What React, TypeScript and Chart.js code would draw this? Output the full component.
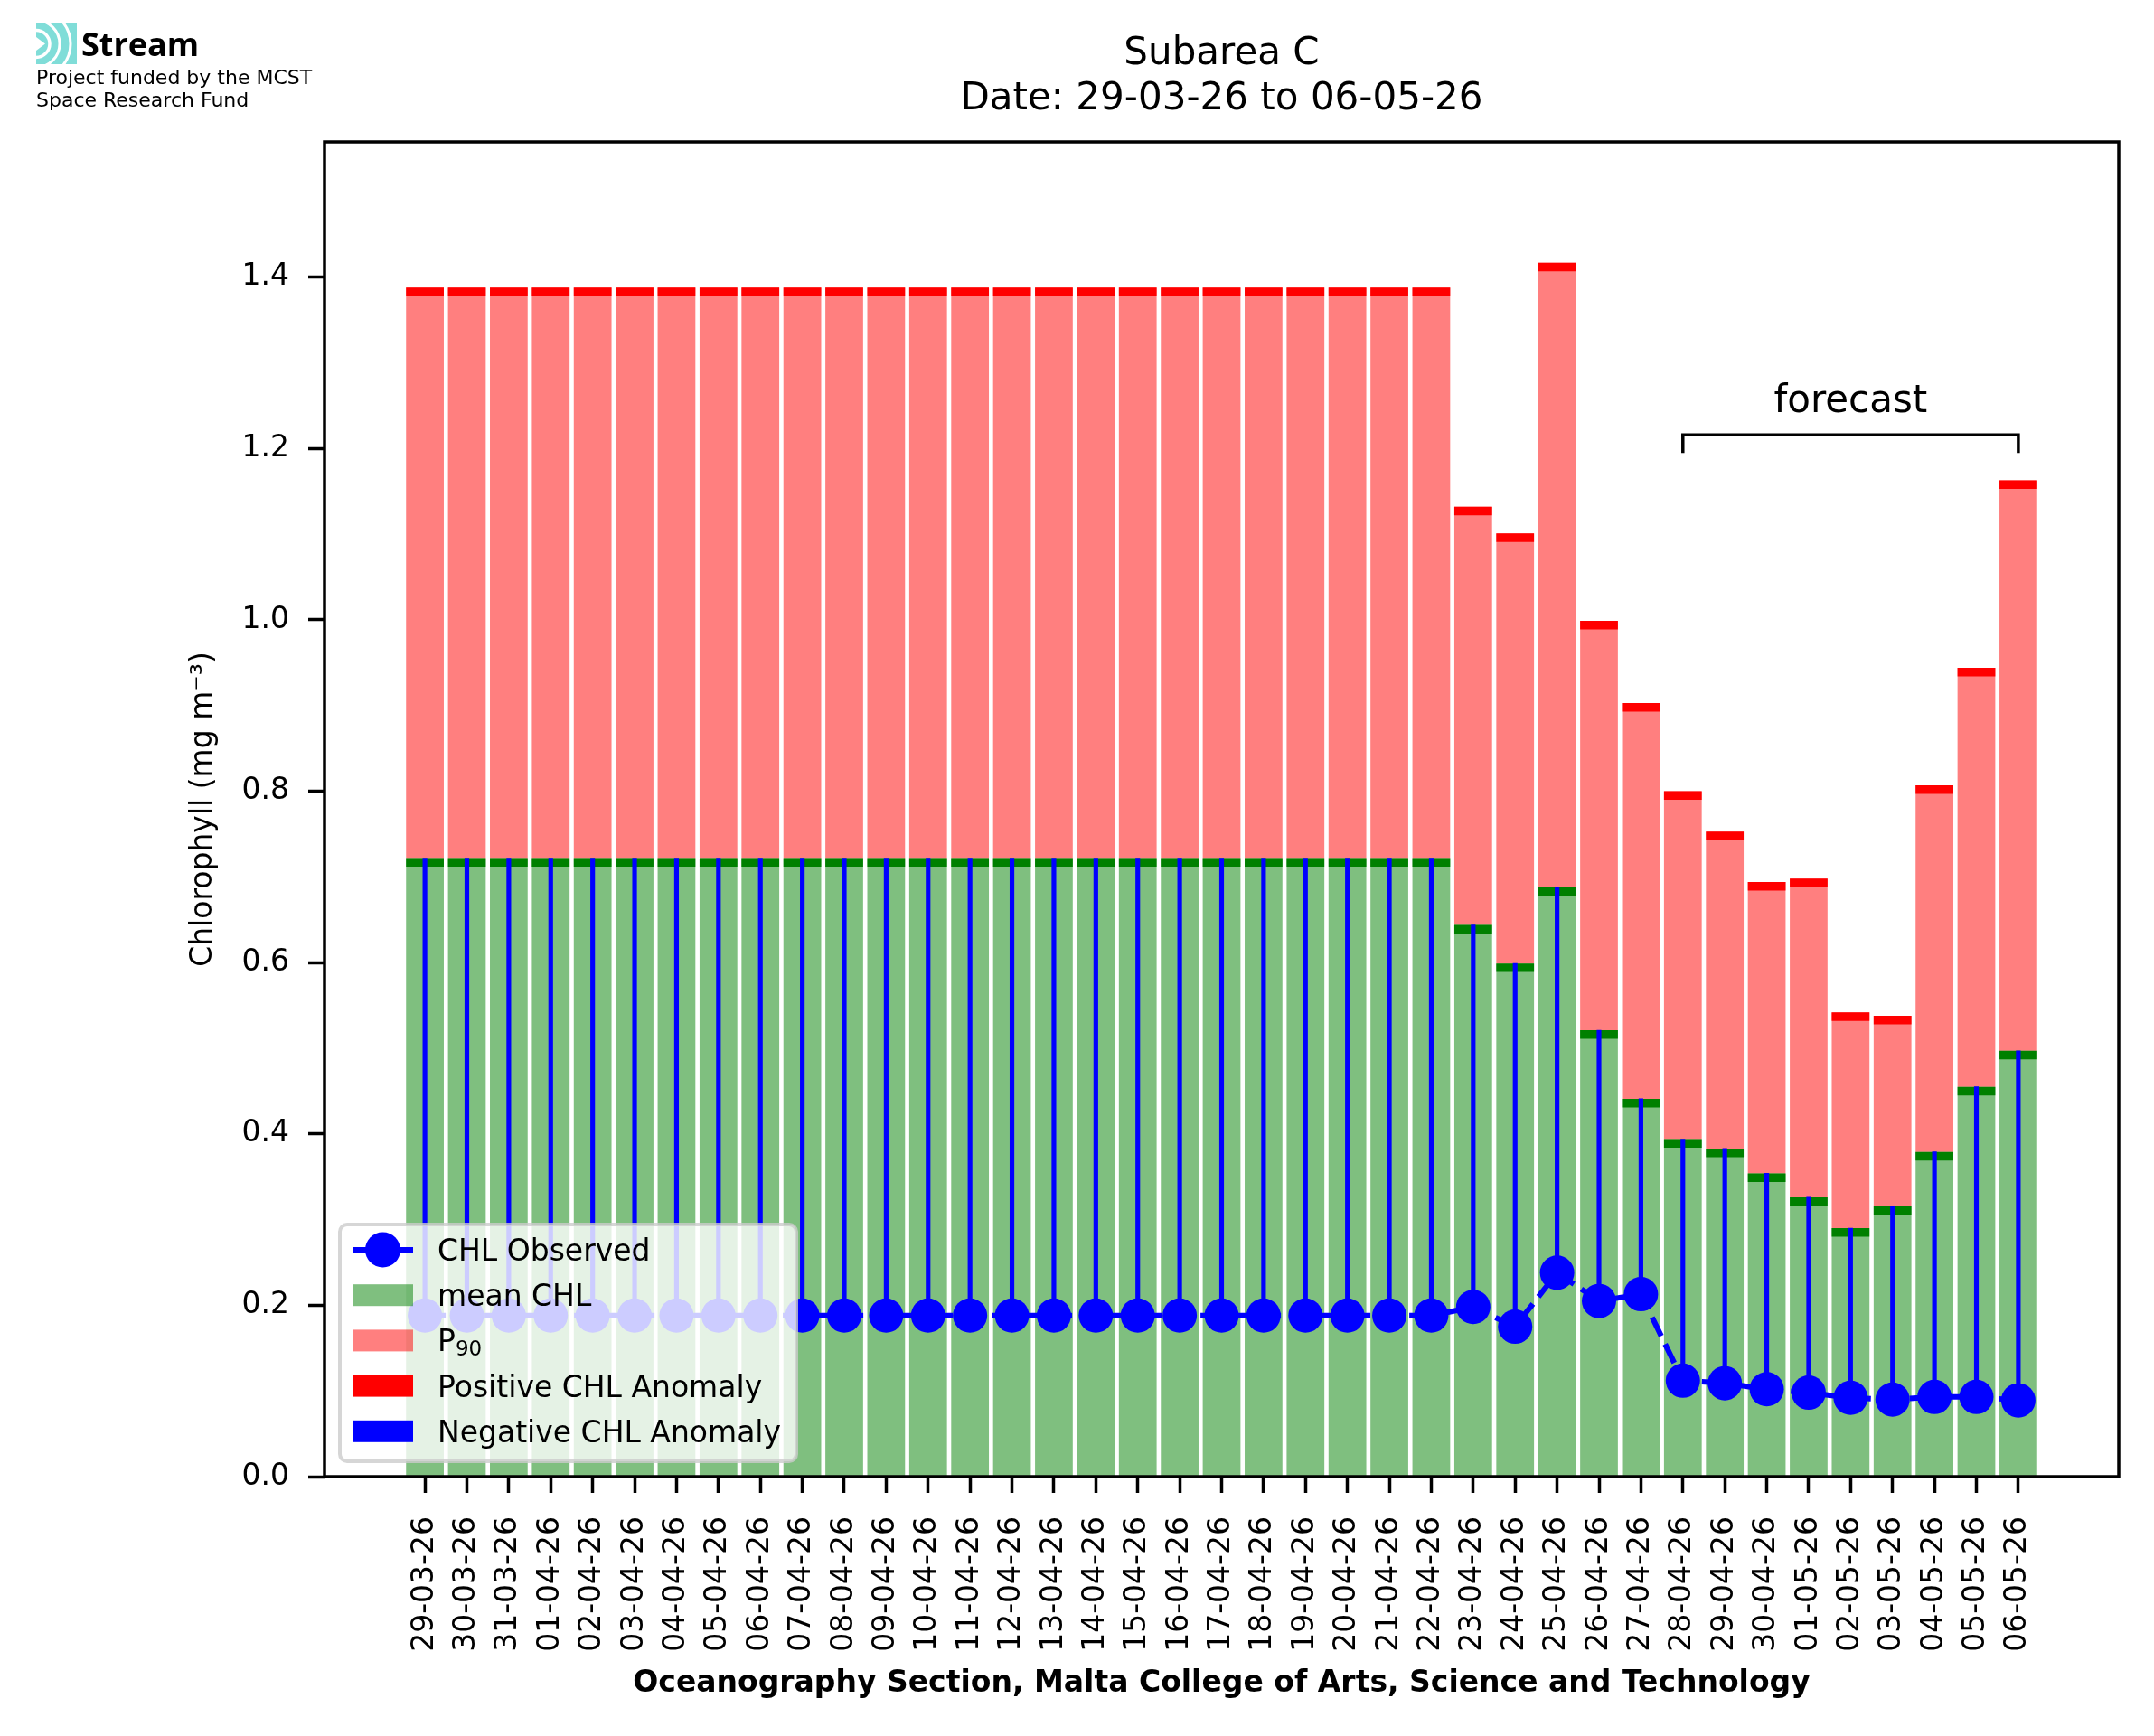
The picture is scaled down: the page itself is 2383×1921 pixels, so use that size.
import React, { useEffect, useRef } from 'react';
import { Chart, registerables } from 'chart.js';

Chart.register(...registerables);

// dates on the x axis
const dates = [
  '29-03-26', '30-03-26', '31-03-26', '01-04-26', '02-04-26', '03-04-26', '04-04-26',
  '05-04-26', '06-04-26', '07-04-26', '08-04-26', '09-04-26', '10-04-26', '11-04-26',
  '12-04-26', '13-04-26', '14-04-26', '15-04-26', '16-04-26', '17-04-26', '18-04-26',
  '19-04-26', '20-04-26', '21-04-26', '22-04-26', '23-04-26', '24-04-26', '25-04-26',
  '26-04-26', '27-04-26', '28-04-26', '29-04-26', '30-04-26', '01-05-26', '02-05-26',
  '03-05-26', '04-05-26', '05-05-26', '06-05-26',
];

// CHL observed (mg m-3)
const observed = [
  0.188, 0.188, 0.188, 0.188, 0.188, 0.188, 0.188, 0.188, 0.188, 0.188,
  0.188, 0.188, 0.188, 0.188, 0.188, 0.188, 0.188, 0.188, 0.188, 0.188,
  0.188, 0.188, 0.188, 0.188, 0.188, 0.198, 0.175, 0.238, 0.205, 0.213,
  0.112, 0.109, 0.102, 0.098, 0.092, 0.090, 0.093, 0.093, 0.089,
];

// climatological mean CHL
const meanChl = [
  0.722, 0.722, 0.722, 0.722, 0.722, 0.722, 0.722, 0.722, 0.722, 0.722,
  0.722, 0.722, 0.722, 0.722, 0.722, 0.722, 0.722, 0.722, 0.722, 0.722,
  0.722, 0.722, 0.722, 0.722, 0.722, 0.644, 0.599, 0.688, 0.521, 0.441,
  0.394, 0.383, 0.354, 0.326, 0.290, 0.316, 0.379, 0.455, 0.497,
];

// 90th percentile
const p90 = [
  1.388, 1.388, 1.388, 1.388, 1.388, 1.388, 1.388, 1.388, 1.388, 1.388,
  1.388, 1.388, 1.388, 1.388, 1.388, 1.388, 1.388, 1.388, 1.388, 1.388,
  1.388, 1.388, 1.388, 1.388, 1.388, 1.132, 1.101, 1.417, 0.999, 0.903,
  0.800, 0.753, 0.694, 0.698, 0.542, 0.538, 0.807, 0.944, 1.163,
];

const yTicks = [0, 0.2, 0.4, 0.6, 0.8, 1.0, 1.2, 1.4];

const forecastFrom = 30; // 28-04-26
const forecastTo = 38; // 06-05-26
const forecastLevel = 1.216;
const forecastTip = 1.195;
const forecastTextLevel = 1.243;

const STRIP = 0.01;
const FONT = '"DejaVu Sans", sans-serif';

const legendItems = [
  { label: 'CHL Observed', kind: 'line', color: '#0000ff' },
  { label: 'mean CHL', kind: 'box', color: 'rgba(0,128,0,0.5)' },
  { label: 'P', sub: '90', kind: 'box', color: 'rgba(255,0,0,0.5)' },
  { label: 'Positive CHL Anomaly', kind: 'box', color: '#ff0000' },
  { label: 'Negative CHL Anomaly', kind: 'box', color: '#0000ff' },
];

const roundRect = (ctx: CanvasRenderingContext2D, x: number, y: number, w: number, h: number, r: number) => {
  ctx.beginPath();
  ctx.moveTo(x + r, y);
  ctx.lineTo(x + w - r, y);
  ctx.arcTo(x + w, y, x + w, y + r, r);
  ctx.lineTo(x + w, y + h - r);
  ctx.arcTo(x + w, y + h, x + w - r, y + h, r);
  ctx.lineTo(x + r, y + h);
  ctx.arcTo(x, y + h, x, y + h - r, r);
  ctx.lineTo(x, y + r);
  ctx.arcTo(x, y, x + r, y, r);
  ctx.closePath();
};

// frame + forecast bracket, over the bars
const overlayPlugin = {
  id: 'overlay',
  afterDatasetsDraw(chart: any) {
    const { ctx, chartArea, scales } = chart;
    ctx.save();
    ctx.strokeStyle = '#000';
    ctx.lineWidth = 3.5;
    ctx.strokeRect(chartArea.left, chartArea.top, chartArea.right - chartArea.left, chartArea.bottom - chartArea.top);

    const x1 = scales.x.getPixelForValue(forecastFrom);
    const x2 = scales.x.getPixelForValue(forecastTo);
    const yl = scales.y.getPixelForValue(forecastLevel);
    const yt = scales.y.getPixelForValue(forecastTip);
    ctx.beginPath();
    ctx.moveTo(x1, yt);
    ctx.lineTo(x1, yl);
    ctx.lineTo(x2, yl);
    ctx.lineTo(x2, yt);
    ctx.stroke();

    ctx.fillStyle = '#000';
    ctx.font = `42px ${FONT}`;
    ctx.textAlign = 'center';
    ctx.textBaseline = 'alphabetic';
    ctx.fillText('forecast', (x1 + x2) / 2, scales.y.getPixelForValue(forecastTextLevel));
    ctx.restore();
  },
};

// matplotlib-like legend in the lower left corner
const legendPlugin = {
  id: 'boxLegend',
  afterDraw(chart: any) {
    const { ctx, chartArea } = chart;
    const w = 505;
    const h = 262;
    const x0 = chartArea.left + 17;
    const y0 = chartArea.bottom - 17 - h;
    ctx.save();
    roundRect(ctx, x0, y0, w, h, 8);
    ctx.fillStyle = 'rgba(255,255,255,0.8)';
    ctx.fill();
    ctx.lineWidth = 4;
    ctx.strokeStyle = 'rgba(204,204,204,0.8)';
    ctx.stroke();

    legendItems.forEach((it, i) => {
      const cy = y0 + 28 + i * 50.2;
      const hx = x0 + 14;
      if (it.kind === 'line') {
        ctx.strokeStyle = it.color;
        ctx.lineWidth = 6;
        ctx.beginPath();
        ctx.moveTo(hx, cy);
        ctx.lineTo(hx + 67, cy);
        ctx.stroke();
        ctx.fillStyle = it.color;
        ctx.beginPath();
        ctx.arc(hx + 33.5, cy, 19.5, 0, Math.PI * 2);
        ctx.fill();
      } else {
        ctx.fillStyle = it.color;
        ctx.fillRect(hx, cy - 12, 67, 24);
      }
      ctx.fillStyle = '#000';
      ctx.textAlign = 'left';
      ctx.textBaseline = 'alphabetic';
      ctx.font = `33px ${FONT}`;
      const tx = x0 + 108;
      ctx.fillText(it.label, tx, cy + 12);
      if (it.sub) {
        const pw = ctx.measureText(it.label).width;
        ctx.font = `23px ${FONT}`;
        ctx.fillText(it.sub, tx + pw, cy + 17);
      }
    });
    ctx.restore();
  },
};

const App: React.FC = () => {
  const canvasRef = useRef<HTMLCanvasElement | null>(null);

  useEffect(() => {
    const canvas = canvasRef.current;
    if (!canvas) return;

    const idx = dates.map((_, i) => i);
    const negAnomaly = idx.map(i => ({ x: i, y: observed[i] < meanChl[i] ? [observed[i], meanChl[i]] : null }));
    const posAnomaly = idx.map(i => ({ x: i, y: observed[i] > meanChl[i] ? [meanChl[i], observed[i]] : null }));

    const barBase = {
      type: 'bar' as const,
      grouped: false,
      categoryPercentage: 1,
      barPercentage: 0.9,
      borderWidth: 0,
    };

    const chart = new Chart(canvas, {
      type: 'bar',
      data: {
        datasets: [
          {
            type: 'line',
            label: 'CHL Observed',
            data: idx.map(i => ({ x: i, y: observed[i] })),
            borderColor: '#0000ff',
            backgroundColor: '#0000ff',
            borderWidth: 6,
            borderDash: [23, 10],
            pointRadius: 19,
            pointHoverRadius: 19,
            pointBorderWidth: 0,
            pointBackgroundColor: '#0000ff',
            tension: 0,
          },
          {
            ...barBase,
            label: 'Negative CHL Anomaly',
            data: negAnomaly as any,
            backgroundColor: '#0000ff',
            barThickness: 4.5,
          },
          {
            ...barBase,
            label: 'Positive CHL Anomaly',
            data: posAnomaly as any,
            backgroundColor: '#ff0000',
            barThickness: 4.5,
          },
          {
            ...barBase,
            label: 'mean CHL edge',
            data: idx.map(i => ({ x: i, y: [meanChl[i] - STRIP, meanChl[i]] })) as any,
            backgroundColor: '#008000',
          },
          {
            ...barBase,
            label: 'P90 edge',
            data: idx.map(i => ({ x: i, y: [p90[i] - STRIP, p90[i]] })) as any,
            backgroundColor: '#ff0000',
          },
          {
            ...barBase,
            label: 'P90',
            data: idx.map(i => ({ x: i, y: [meanChl[i], p90[i]] })) as any,
            backgroundColor: 'rgba(255,0,0,0.5)',
          },
          {
            ...barBase,
            label: 'mean CHL',
            data: idx.map(i => ({ x: i, y: [0, meanChl[i]] })) as any,
            backgroundColor: 'rgba(0,128,0,0.5)',
          },
        ] as any,
      },
      options: {
        animation: false,
        responsive: false,
        devicePixelRatio: 1,
        events: [],
        layout: { padding: { left: 0, top: 0, right: 39, bottom: 0 } },
        plugins: {
          legend: { display: false },
          tooltip: { enabled: false },
          title: {
            display: true,
            fullSize: false,
            text: ['Subarea C', 'Date: 29-03-26 to 06-05-26'],
            color: '#000',
            font: { family: FONT, size: 42, weight: 'normal', lineHeight: 50 / 42 },
            padding: { top: 35, bottom: 22 },
          },
        },
        scales: {
          x: {
            type: 'linear',
            min: -2.395,
            max: 40.395,
            bounds: 'data',
            offset: false,
            grid: {
              offset: false,
              drawOnChartArea: false,
              drawTicks: true,
              tickLength: 18,
              tickWidth: 3.5,
              tickColor: '#000',
            },
            border: { display: false },
            ticks: {
              autoSkip: false,
              minRotation: 90,
              maxRotation: 90,
              padding: 26,
              color: '#000',
              font: { family: FONT, size: 33 },
              callback: (v: any) => dates[v] ?? '',
            },
            afterBuildTicks: (scale: any) => {
              scale.ticks = idx.map(i => ({ value: i }));
            },
            afterFit: (scale: any) => {
              scale.height = 287;
            },
            title: {
              display: true,
              text: 'Oceanography Section, Malta College of Arts, Science and Technology',
              color: '#000',
              font: { family: FONT, size: 33, weight: 'bold' },
              padding: { top: 0, bottom: 38 },
            },
          },
          y: {
            type: 'linear',
            min: 0,
            max: 1.558,
            bounds: 'data',
            grid: {
              drawOnChartArea: false,
              drawTicks: true,
              tickLength: 18,
              tickWidth: 3.5,
              tickColor: '#000',
            },
            border: { display: false },
            ticks: {
              includeBounds: false,
              padding: 21,
              color: '#000',
              font: { family: FONT, size: 33 },
              callback: (v: any) => Number(v).toFixed(1),
            },
            afterBuildTicks: (scale: any) => {
              scale.ticks = yTicks.map(v => ({ value: v }));
            },
            afterFit: (scale: any) => {
              scale.width = 359;
            },
            title: {
              display: true,
              text: 'Chlorophyll (mg m⁻³)',
              color: '#000',
              font: { family: FONT, size: 33 },
              padding: { top: 206, bottom: 0 },
            },
          },
        },
      } as any,
      plugins: [overlayPlugin, legendPlugin],
    });

    return () => {
      chart.destroy();
    };
  }, []);

  return (
    <div style={{ position: 'absolute', left: 0, top: 0, width: 2383, height: 1921, background: '#fff', overflow: 'hidden' }}>
      <canvas
        ref={canvasRef}
        width={2383}
        height={1921}
        style={{ position: 'absolute', left: 0, top: 0, width: 2383, height: 1921 }}
      />
      <svg width={600} height={140} style={{ position: 'absolute', left: 0, top: 0 }}>
        <defs>
          <clipPath id="logoClip">
            <rect x={40} y={26} width={45} height={45} />
          </clipPath>
        </defs>
        <g clipPath="url(#logoClip)">
          <rect x={40} y={26} width={45} height={45} fill="#80ddd8" />
          <path d="M40 41 L50 48.5 L40 56 Z" fill="#fff" />
          <circle cx={40} cy={48.5} r={15} fill="none" stroke="#fff" strokeWidth={3.5} />
          <circle cx={40} cy={48.5} r={26} fill="none" stroke="#fff" strokeWidth={3} />
          <circle cx={40} cy={48.5} r={38} fill="none" stroke="#fff" strokeWidth={3} />
        </g>
        <text x={90} y={62} fontFamily="'Open Sans', sans-serif" fontWeight={700} fontSize={36} fill="#000">
          Stream
        </text>
        <text x={40} y={93} fontFamily={FONT} fontSize={22} fill="#000">
          Project funded by the MCST
        </text>
        <text x={40} y={118} fontFamily={FONT} fontSize={22} fill="#000">
          Space Research Fund
        </text>
      </svg>
    </div>
  );
};

export default App;
